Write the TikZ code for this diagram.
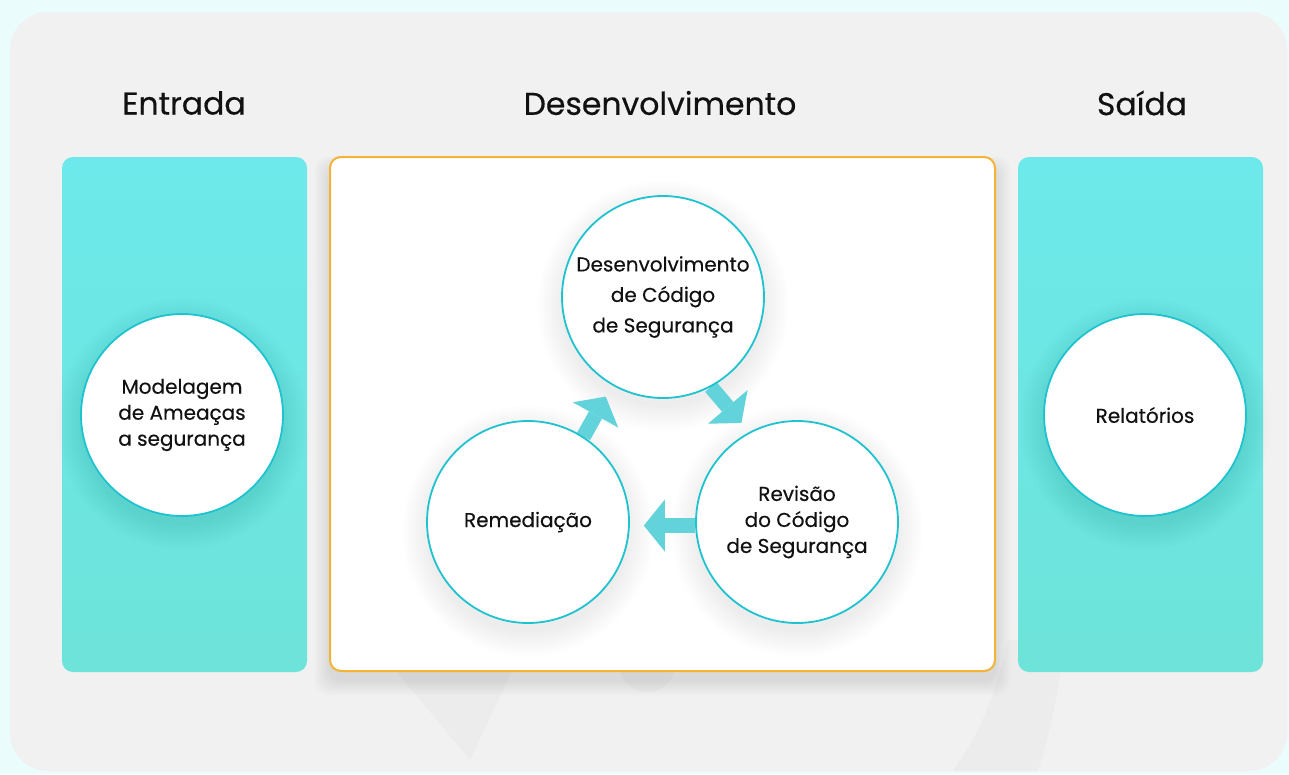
\documentclass[tikz,border=0pt]{standalone}
\usepackage{fontspec}
\setmainfont{Poppins}[UprightFeatures={FakeBold=0.35}]
\usetikzlibrary{arrows.meta,calc}
\definecolor{outerbg}{HTML}{EAFCFC}
\definecolor{panelgray}{HTML}{F1F1F1}
\definecolor{wmgray}{HTML}{ECECEC}
\definecolor{tealtop}{HTML}{6DE9EB}
\definecolor{tealbot}{HTML}{6DE3D9}
\definecolor{ringc}{HTML}{1FC3CF}
\definecolor{arrowc}{HTML}{62D3DA}
\definecolor{orangec}{HTML}{F5B335}
\definecolor{textc}{HTML}{111111}
\pgfdeclarelayer{bg}
\pgfdeclarelayer{shad}
\pgfdeclarelayer{arr}
\pgfsetlayers{bg,shad,arr,main}
\tikzset{
  titlelabel/.style={text=textc, font=\fontsize{31.5}{36}\selectfont},
  tealpanel/.style={rectangle, rounded corners=11pt, top color=tealtop, bottom color=tealbot,
    minimum width=245pt, minimum height=515pt, inner sep=0pt},
  devbox/.style={rectangle, rounded corners=11pt, fill=white, draw=orangec, line width=2pt,
    minimum width=665pt, minimum height=514pt, inner sep=0pt},
  stage/.style={circle, fill=white, draw=ringc, line width=1.8pt, minimum size=202pt, inner sep=0pt,
    align=center, text=textc, font=\fontsize{20}{26}\selectfont},
  fatarrow/.style={draw=arrowc, line width=15pt, -{Triangle[width=52pt,length=21pt,line width=0pt]}},
  watermark/.style={fill=wmgray}
}
\newcommand{\circshadow}[1]{%
  \foreach \k in {1,...,18}{\fill[black, opacity=0.005] ($(#1.center)+(0,9)$) circle ({99+1.5*\k});}}
\begin{document}
\begin{tikzpicture}[x=1pt,y=-1pt]
\useasboundingbox (0,0) rectangle (1289,774);
\begin{pgfonlayer}{bg}
  \fill[outerbg] (0,0) rectangle (1289,774);
  \fill[panelgray, rounded corners=38pt] (10,12) rectangle (1287,771);
  % faint watermark shapes
  \begin{scope}
    \clip[rounded corners=38pt] (10,12) rectangle (1287,771);
    \fill[watermark] (387,660) -- (517,660) -- (470,760) -- cycle;
    \fill[watermark] (647,664) circle (28);
    \fill[watermark] (1008,640) .. controls (995,700) and (975,745) .. (945,780)
       -- (1035,780) .. controls (1048,740) and (1058,700) .. (1064,640) -- cycle;
  \end{scope}
  \foreach \k in {1,...,12}{\fill[black, opacity=0.007, rounded corners=14pt] ($(330,168)+(-1.3*\k,-1.0*\k)$) rectangle ($(995,680)+(1.3*\k,1.3*\k)$);}
  \node[tealpanel] (inpanel) at (184.5,414.5) {};
  \node[tealpanel] (outpanel) at (1140.5,414.5) {};
  \node[devbox] (dev) at (662.5,414) {};
\end{pgfonlayer}
\node[titlelabel] (tin) at (184,103) {Entrada};
\node[titlelabel] (tdev) at (660,103) {Desenvolvimento};
\node[titlelabel] (tout) at (1142,103) {Saída};
\node[stage] (model) at (182,415) {Modelagem\\de Ameaças\\a segurança};
\node[stage] (report) at (1145,415) {Relatórios};
\node[stage, font=\fontsize{20}{30.5}\selectfont] (code) at (663,297) {Desenvolvimento\\de Código\\de Segurança};
\node[stage] (fix) at (528,522) {Remediação};
\node[stage] (review) at (797,522) {Revisão\\do Código\\de Segurança};
\begin{pgfonlayer}{shad}
  \circshadow{model}\circshadow{report}\circshadow{code}\circshadow{fix}\circshadow{review}
\end{pgfonlayer}
\begin{pgfonlayer}{arr}
  \draw[fatarrow, shorten >=13pt] (fix.57) -- (code.-120);
  \draw[fatarrow, shorten >=12pt] (code.-62) -- (review.118);
  \draw[fatarrow, shorten >=14pt] (review.182) -- (fix.-2);
\end{pgfonlayer}
\end{tikzpicture}
\end{document}
